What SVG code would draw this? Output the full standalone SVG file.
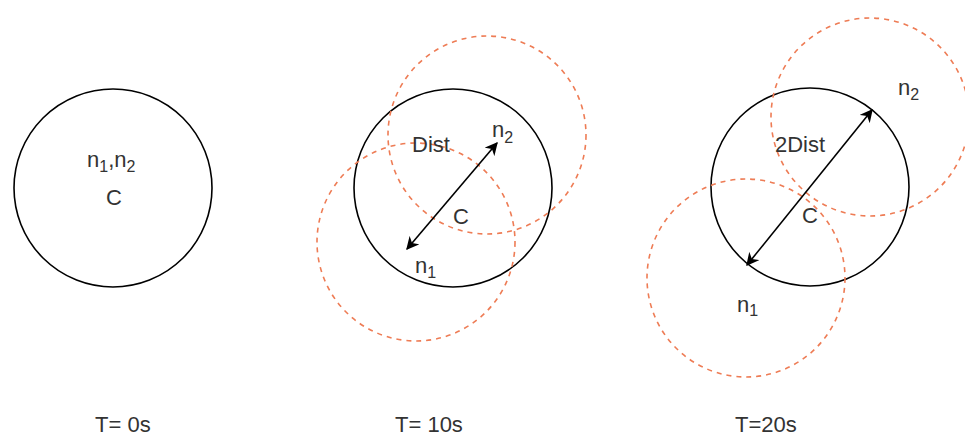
<svg xmlns="http://www.w3.org/2000/svg" width="965" height="439" viewBox="0 0 965 439">
<style>
.cluster{fill:none;stroke:#000;stroke-width:1.6}
.range{fill:none;stroke:#EE7C55;stroke-width:1.6;stroke-dasharray:5 5}
.conn{stroke:#000;stroke-width:1.6;fill:none}
text{font-family:"Liberation Sans",Arial,sans-serif;font-size:22px;fill:#333}
.sub{font-size:16px}
</style>
<defs>
<marker id="arr" viewBox="0 0 10 10" refX="9" refY="5" markerWidth="13" markerHeight="13" markerUnits="userSpaceOnUse" orient="auto-start-reverse">
<path d="M0,0 L10,5 L0,10 L3,5 Z" fill="#000"/>
</marker>
</defs>
<rect width="965" height="439" fill="#fff"/>
<g id="cluster-t0">
<circle class="cluster" cx="113" cy="188" r="99"/>
<text x="87" y="167">n<tspan class="sub" dy="5">1</tspan><tspan dy="-5">,n</tspan><tspan class="sub" dy="5">2</tspan></text>
<text x="106" y="205">C</text>
</g>
<g id="cluster-t10">
<circle class="cluster" cx="453" cy="188" r="99"/>
<circle class="range" cx="487" cy="135" r="99"/>
<circle class="range" cx="416" cy="242" r="99"/>
<text x="412" y="152">Dist</text>
<text x="492" y="137">n<tspan class="sub" dy="6">2</tspan></text>
<text x="453" y="224">C</text>
<text x="415" y="273">n<tspan class="sub" dy="5">1</tspan></text>
</g>
<g id="cluster-t20">
<circle class="cluster" cx="810" cy="187" r="99"/>
<circle class="range" cx="870" cy="117" r="99"/>
<circle class="range" cx="746" cy="278" r="99"/>
<text x="775" y="152">2Dist</text>
<text x="898" y="95">n<tspan class="sub" dy="5">2</tspan></text>
<text x="802" y="223">C</text>
<text x="737" y="312">n<tspan class="sub" dy="4">1</tspan></text>
</g>
<g id="connectors">
<line class="conn" x1="407" y1="249" x2="497" y2="143" marker-start="url(#arr)" marker-end="url(#arr)"/>
<line class="conn" x1="747" y1="265" x2="872" y2="110" marker-start="url(#arr)" marker-end="url(#arr)"/>
</g>
<g id="labels">
<text x="95" y="432">T= 0s</text>
<text x="395" y="432">T= 10s</text>
<text x="735" y="432">T=20s</text>
</g>
</svg>
